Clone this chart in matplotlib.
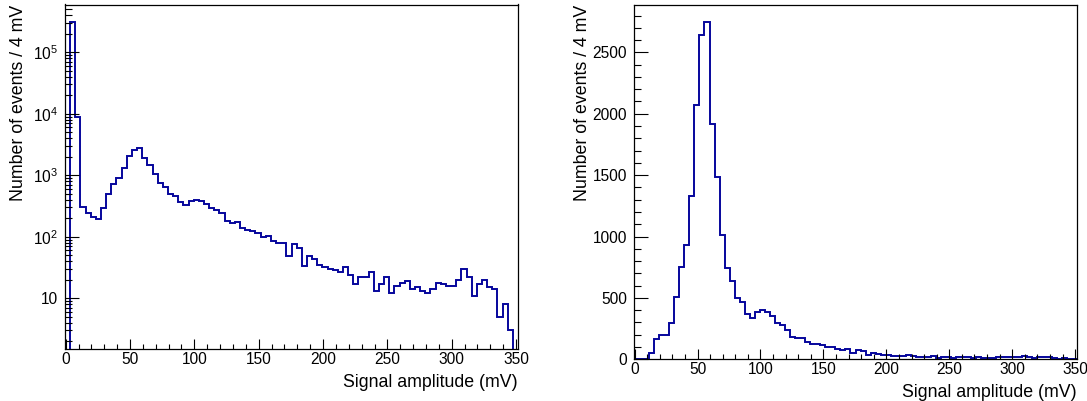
import numpy as np
import matplotlib
matplotlib.use("Agg")
import matplotlib.pyplot as plt
from matplotlib.ticker import MultipleLocator, LogLocator, NullFormatter, FuncFormatter

# ---- data -------------------------------------------------------------
bin_width = 4.0          # mV
x_start = -0.5           # mV
n_bins = 88

x_title = "Signal amplitude (mV)"
y_title = "Number of events / 4 mV"

# left panel (all events, log scale)
left_counts = [0, 308000, 8700, 307, 242, 213, 198, 295, 505, 735,
               910, 1310, 2020, 2600, 2775, 1880, 1470, 1030, 740, 635,
               497, 460, 368, 333, 380, 403, 380, 345, 290, 271,
               240, 183, 170, 177, 140, 127, 125, 114, 101, 104,
               85, 78, 80, 49, 75, 65, 33, 49, 44, 35,
               32, 30, 29, 27, 32, 24, 17, 22, 22, 27,
               13, 17, 22, 12, 16, 18, 19, 14, 15, 13,
               12, 14, 18, 17, 16, 16, 20, 30, 22, 11,
               17, 20, 15, 14, 5, 8, 3, 1]

# right panel (selected events, linear scale)
right_counts = [0, 0, 0, 54, 163, 200, 200, 298, 510, 753,
                930, 1331, 2073, 2642, 2751, 1919, 1485, 1011, 745, 640,
                502, 465, 372, 333, 385, 404, 382, 350, 293, 279,
                240, 184, 171, 176, 140, 127, 125, 114, 101, 104,
                85, 78, 80, 49, 75, 65, 33, 49, 44, 35,
                32, 30, 29, 27, 32, 24, 17, 22, 22, 27,
                13, 17, 22, 12, 16, 18, 19, 14, 15, 13,
                12, 14, 18, 17, 16, 16, 20, 30, 22, 11,
                17, 20, 15, 14, 5, 8, 3, 1]

edges = x_start + bin_width * np.arange(n_bins + 1)

# ---- style ------------------------------------------------------------
plt.rcParams["font.family"] = ["Liberation Sans", "DejaVu Sans"]
plt.rcParams["mathtext.fontset"] = "custom"
plt.rcParams["mathtext.rm"] = "Liberation Sans"
plt.rcParams["mathtext.it"] = "Liberation Sans:italic"
plt.rcParams["mathtext.bf"] = "Liberation Sans:bold"

line_color = "#06069c"
W, H = 1087, 401
fig = plt.figure(figsize=(W / 100, H / 100), dpi=100)

def px_axes(l, t, r, b):
    return fig.add_axes([l / W, 1 - b / H, (r - l) / W, (b - t) / H])

axL = px_axes(65, 4.5, 518, 349)
axR = px_axes(634, 4.5, 1077, 359.3)

tick_fs = 11.2
title_fs = 12.8

for ax in (axL, axR):
    for s in ax.spines.values():
        s.set_linewidth(0.9)
        s.set_color("black")
    ax.set_xlim(edges[0], edges[-1])
    ax.xaxis.set_major_locator(MultipleLocator(50))
    ax.xaxis.set_minor_locator(MultipleLocator(10))
    ax.tick_params(axis="both", which="both", direction="in",
                   top=False, right=False, labelsize=tick_fs, width=0.8)
    ax.tick_params(axis="x", which="major", length=7, pad=2)
    ax.tick_params(axis="x", which="minor", length=3.7)
    ax.tick_params(axis="y", which="major", length=10, pad=5)
    ax.tick_params(axis="y", which="minor", length=5)

# left: log
axL.stairs(left_counts, edges, baseline=None, color=line_color, lw=1.4)
axL.set_yscale("log", nonpositive="clip")
axL.set_ylim(1.5, 5.97e5)
axL.yaxis.set_major_locator(LogLocator(base=10, numticks=20))
axL.yaxis.set_minor_locator(LogLocator(base=10, subs=np.arange(2, 10), numticks=20))
axL.yaxis.set_minor_formatter(NullFormatter())

def log_fmt(v, pos):
    e = int(round(np.log10(v)))
    if e == 1:
        return "10"
    if e == 0:
        return "1"
    return r"$10^{%d}$" % e

axL.yaxis.set_major_formatter(FuncFormatter(log_fmt))

# right: linear
axR.stairs(right_counts, edges, baseline=None, color=line_color, lw=1.4)
axR.set_ylim(0, 2890)
axR.yaxis.set_major_locator(MultipleLocator(500))
axR.yaxis.set_minor_locator(MultipleLocator(100))

axL.set_xlabel(x_title, fontsize=title_fs, loc="right", labelpad=5)
axR.set_xlabel(x_title, fontsize=title_fs, loc="right", labelpad=5)
axL.set_ylabel(y_title, fontsize=title_fs, loc="top", labelpad=4.4)
axR.set_ylabel(y_title, fontsize=title_fs, loc="top", labelpad=1)

fig.savefig("out.png", dpi=100)
